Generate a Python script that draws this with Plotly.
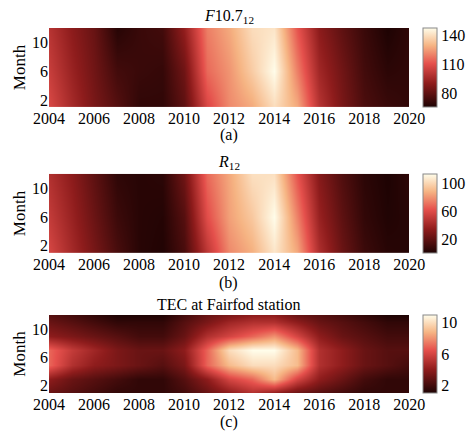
import plotly.graph_objects as go

years = list(range(2004, 2021))

# F10.7_12 by year, rows = months
f107_months = [1, 6, 12]
f107 = [
    [108, 96, 86, 78, 70, 70, 80, 108, 122, 128, 140, 128, 100, 86, 76, 72, 70],
    [104, 93, 84, 74, 72, 71, 84, 116, 124, 136, 148, 120, 95, 84, 74, 69, 70],
    [100, 90, 82, 68, 72, 74, 92, 120, 128, 140, 142, 112, 90, 80, 72, 66, 70],
]

r12_months = [1, 6, 12]
r12 = [
    [58, 42, 28, 14, 4, 2, 14, 50, 78, 88, 106, 86, 45, 24, 10, 4, 3],
    [52, 38, 24, 10, 4, 3, 18, 62, 84, 96, 114, 76, 38, 20, 7, 2, 4],
    [46, 34, 20, 6, 4, 5, 26, 70, 86, 104, 104, 64, 32, 16, 5, 1, 6],
]

tec_months = [1, 3, 5, 7, 9, 11, 12]
tec = [
    [3, 2.5, 2, 1.5, 1.5, 1.5, 2, 3, 4, 5, 4, 3, 2.5, 2, 1.5, 1.5, 1.5],
    [4, 3, 2.5, 2, 1.5, 1.5, 2.5, 4, 6, 7, 9, 6, 4, 3, 2, 1.5, 1.5],
    [7, 5, 4, 3.5, 3, 2.5, 3.5, 7, 9, 10, 10, 9, 5, 4, 3, 2.5, 2],
    [7, 5.5, 4.5, 3.5, 3, 3, 4, 7, 10, 11, 11, 9, 5, 4, 3, 2.5, 2.5],
    [4, 3.5, 3, 2.5, 2, 2, 3, 5, 6, 7, 8, 6, 4, 3, 2.5, 2, 2],
    [3, 2.5, 2, 1.5, 1.5, 1.5, 2.5, 3.5, 4.5, 5, 5, 4, 3, 2.5, 2, 1.5, 1.5],
    [2.5, 2, 1.5, 1, 1, 1, 2, 3, 3.5, 4, 4, 3, 2.5, 2, 1.5, 1, 1],
]

cscale = [[0, "#1e0303"], [0.3, "#8e1c1c"], [0.55, "#e5504c"],
          [0.78, "#f6b584"], [1, "#fffdea"]]
font = dict(family="Liberation Serif, Times New Roman, serif", size=16, color="black")

panels = [
    (f107_months, f107, [80, 110, 140], (0.771, 0.954), "<i>F</i>10.7<sub>12</sub>", "(a)", 0.707),
    (r12_months, r12, [20, 60, 100], (0.434, 0.617), "<i>R</i><sub>12</sub>", "(b)", 0.365),
    (tec_months, tec, [2, 6, 10], (0.111, 0.291), "TEC at Fairfod station", "(c)", 0.044),
]

fig = go.Figure()
for i, (months, z, cticks, dom, title, cap, capy) in enumerate(panels, start=1):
    fig.add_trace(go.Heatmap(
        x=years, y=months, z=z, zsmooth="best", colorscale=cscale,
        xaxis=f"x{i}", yaxis=f"y{i}",
        colorbar=dict(x=0.891, xanchor="left", xpad=0, ypad=0,
                      y=(dom[0] + dom[1]) / 2,
                      len=dom[1] - dom[0], thickness=14, outlinecolor="#888",
                      outlinewidth=1, tickvals=cticks, ticks="",
                      tickfont=font),
    ))
    fig.layout[f"xaxis{i}"] = dict(domain=[0.088, 0.861], anchor=f"y{i}",
                                   range=[2004, 2020], tickvals=list(range(2004, 2021, 2)),
                                   showgrid=False, zeroline=False, tickfont=font,
                                   automargin=False)
    fig.layout[f"yaxis{i}"] = dict(domain=list(dom), anchor=f"x{i}",
                                   range=[1, 12], tickvals=[2, 6, 10],
                                   showgrid=False, zeroline=False, tickfont=font,
                                   automargin=False,
                                   title=dict(text="Month", font=dict(size=17), standoff=2))
    fig.add_annotation(text=title, x=0.474, y=dom[1], xref="paper", yref="paper",
                       yanchor="bottom", showarrow=False, font=font)
    fig.add_annotation(text=cap, x=0.474, y=capy, xref="paper", yref="paper",
                       yanchor="middle", showarrow=False, font=font)

fig.update_layout(width=466, height=433, margin=dict(l=0, r=0, t=0, b=0, autoexpand=False),
                  plot_bgcolor="white", paper_bgcolor="white", font=font)
fig.write_html("out.html")
